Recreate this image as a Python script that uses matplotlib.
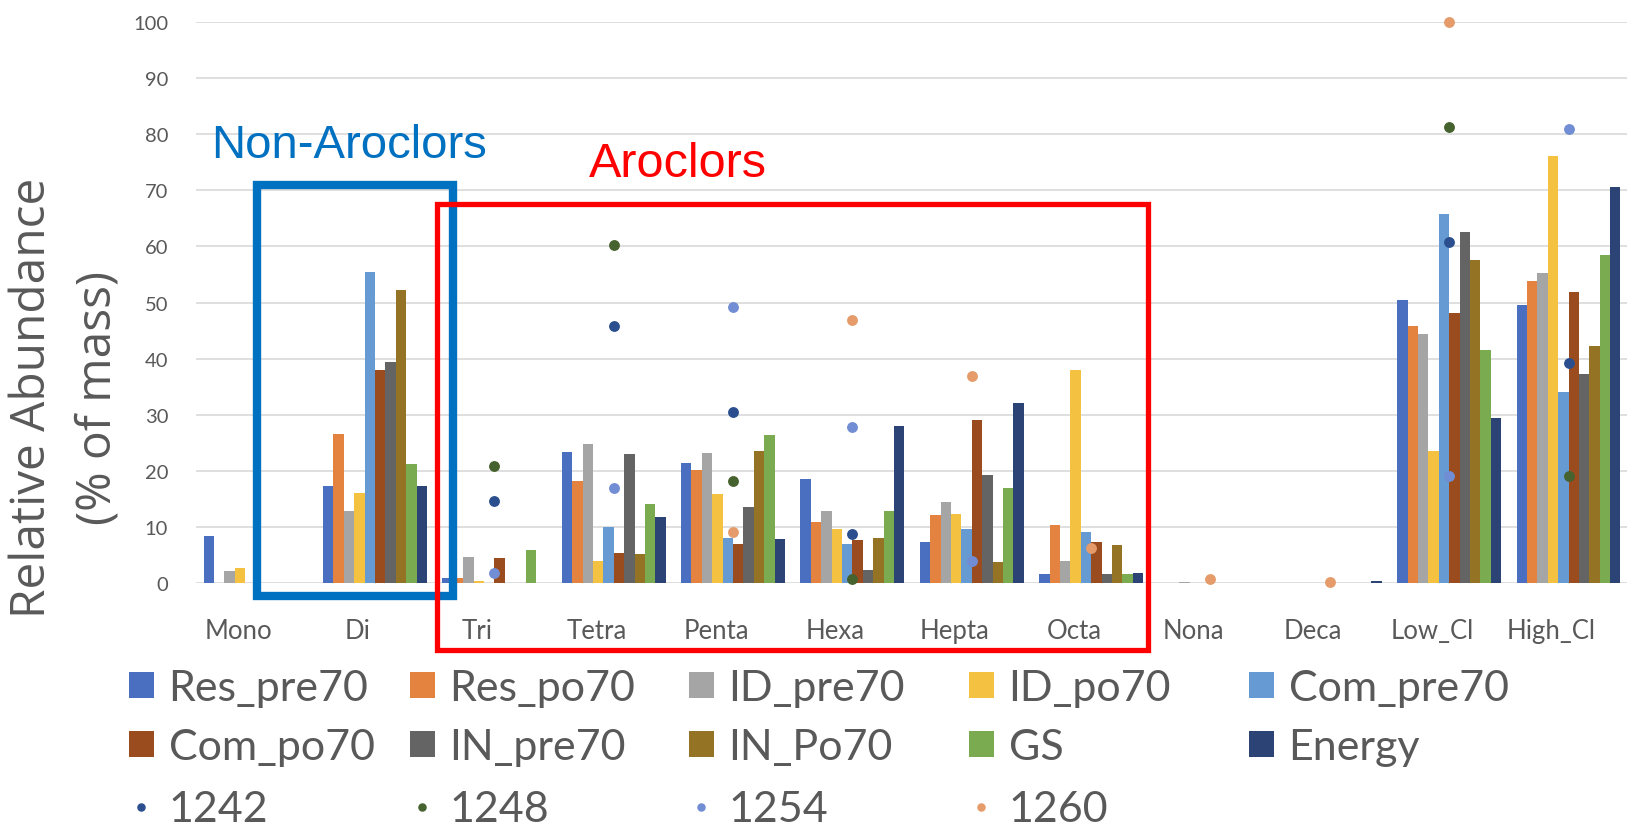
import numpy as np
import matplotlib
matplotlib.use("Agg")
import matplotlib.pyplot as plt
from matplotlib.patches import Rectangle
from matplotlib.transforms import ScaledTranslation
from matplotlib.font_manager import FontProperties

nan = np.nan
categories = ['Mono', 'Di', 'Tri', 'Tetra', 'Penta', 'Hexa', 'Hepta', 'Octa',
              'Nona', 'Deca', 'Low_Cl', 'High_Cl']

Res_pre70 = [8.3, 17.3, 0.9, 23.3, 21.4, 18.5, 7.3, 1.6, 0, 0, 50.4, 49.5]
Res_po70 = [0, 26.5, 0.9, 18.2, 20.1, 10.8, 12.2, 10.4, 0, 0, 45.8, 53.9]
ID_pre70 = [2.1, 12.8, 4.6, 24.7, 23.2, 12.9, 14.5, 4.0, 0.2, 0, 44.4, 55.3]
ID_po70 = [2.7, 16.0, 0.4, 4.0, 15.8, 9.7, 12.3, 37.9, 0, 0, 23.6, 76.2]
Com_pre70 = [0, 55.5, 0, 10.0, 8.1, 6.9, 9.7, 9.1, 0, 0, 65.7, 34.1]
Com_po70 = [0, 37.9, 4.5, 5.4, 6.9, 7.7, 29.1, 7.3, 0, 0, 48.2, 51.8]
IN_pre70 = [0, 39.4, 0, 23.0, 13.5, 2.3, 19.3, 1.6, 0, 0, 62.6, 37.3]
IN_Po70 = [0, 52.3, 0, 5.2, 23.6, 8.0, 3.7, 6.8, 0, 0, 57.5, 42.3]
GS = [0, 21.2, 5.8, 14.1, 26.3, 12.9, 17.0, 1.6, 0, 0, 41.6, 58.4]
Energy = [0, 17.3, 0, 11.8, 7.8, 28.0, 32.0, 1.8, 0, 0.3, 29.5, 70.5]

A1242 = [nan, nan, 14.7, 45.9, 30.5, 8.7, nan, nan, nan, nan, 60.8, 39.3]
A1248 = [nan, nan, 20.9, 60.2, 18.2, 0.8, nan, nan, nan, nan, 81.2, 19.0]
A1254 = [nan, nan, 1.8, 17.0, 49.2, 27.8, 3.9, nan, nan, nan, 19.0, 81.0]
A1260 = [nan, nan, nan, nan, 9.1, 46.9, 36.9, 6.2, 0.65, 0.1, 100, nan]

bar_series = [
    ('Res_pre70', Res_pre70, '#4A6FC0'),
    ('Res_po70', Res_po70, '#E3833F'),
    ('ID_pre70', ID_pre70, '#A5A5A5'),
    ('ID_po70', ID_po70, '#F5C140'),
    ('Com_pre70', Com_pre70, '#659AD2'),
    ('Com_po70', Com_po70, '#9A4C1E'),
    ('IN_pre70', IN_pre70, '#646464'),
    ('IN_Po70', IN_Po70, '#957325'),
    ('GS', GS, '#7AAB50'),
    ('Energy', Energy, '#2C4475'),
]
dot_series = [
    ('1242', A1242, '#2B4F8E'),
    ('1248', A1248, '#46622E'),
    ('1254', A1254, '#718DD4'),
    ('1260', A1260, '#E59C6A'),
]

W, H = 1627, 829
fig = plt.figure(figsize=(W / 100, H / 100), dpi=100)
ax = fig.add_axes([196 / W, 1 - 584 / H, (W - 196) / W, (584 - 23) / H])

x = np.arange(len(categories))
bw = 0.0871
handles = []
for i, (name, vals, col) in enumerate(bar_series):
    h = ax.bar(x + (i - 4.5) * bw, vals, width=bw, color=col, linewidth=0,
               zorder=2, label=name)
    handles.append(h)
for name, vals, col in dot_series:
    h, = ax.plot(x, vals, 'o', ms=6.8, color=col, linestyle='none', zorder=3,
                 clip_on=False, label=name)
    handles.append(h)

ax.set_xlim(-0.5, 11.49)
ax.set_ylim(0, 100)
ax.set_yticks(np.arange(0, 101, 10))
ax.set_xticks(x)
ax.set_xticklabels(categories)
ax.grid(axis='y', color='#D9D9D9', lw=1.2, zorder=0)
ax.set_axisbelow(True)
for s in ax.spines.values():
    s.set_visible(False)
ax.tick_params(axis='y', length=0, pad=20, labelsize=14.5, labelcolor='#595959')
ax.tick_params(axis='x', length=0, pad=25, labelsize=18.5, labelcolor='#595959')
for lbl in ax.get_yticklabels() + ax.get_xticklabels():
    lbl.set_fontfamily('Lato')
off = ScaledTranslation(-17 / 100, 0, fig.dpi_scale_trans)
for lbl in ax.get_xticklabels():
    lbl.set_transform(lbl.get_transform() + off)

# annotation boxes
ax.add_patch(Rectangle((0.012, -2.3), 1.653 - 0.012, 70.9 + 2.3, fill=False,
                       ec='#0070C0', lw=6, clip_on=False, zorder=4,
                       joinstyle='miter'))
ax.add_patch(Rectangle((1.519, -11.9), 7.474 - 1.519, 67.6 + 11.9, fill=False,
                       ec='#FF0000', lw=3.8, clip_on=False, zorder=4,
                       joinstyle='miter'))
ax.text(-0.374, 75.9, 'Non-Aroclors', color='#0070C0', fontsize=34,
        family='Liberation Sans', ha='left', va='baseline', clip_on=False)
ax.text(2.79, 72.5, 'Aroclors', color='#FF0000', fontsize=35,
        family='Liberation Sans', ha='left', va='baseline', clip_on=False)

fig.text(65 / W, 1 - 398 / H, 'Relative Abundance\n(% of mass)', rotation=90,
         ha='center', va='center', ma='center', fontsize=34.5,
         family='Open Sans', color='#595959', linespacing=1.5)

# legend: 5 columns x 3 rows
col_x = [129, 410, 689, 969, 1249]
row_y = [689, 748, 810]
prop = FontProperties(family='Lato', size=31)
for i, h in enumerate(handles):
    r, c = divmod(i, 5)
    fig.legend([h], [h.get_label()], loc='center left',
               bbox_to_anchor=(col_x[c] / W, 1 - row_y[r] / H),
               frameon=False, borderpad=0, borderaxespad=0,
               handlelength=0.57, handleheight=0.57, handletextpad=0.35,
               prop=prop, labelcolor='#595959', markerscale=0.75)

fig.savefig('out.png', dpi=100)
